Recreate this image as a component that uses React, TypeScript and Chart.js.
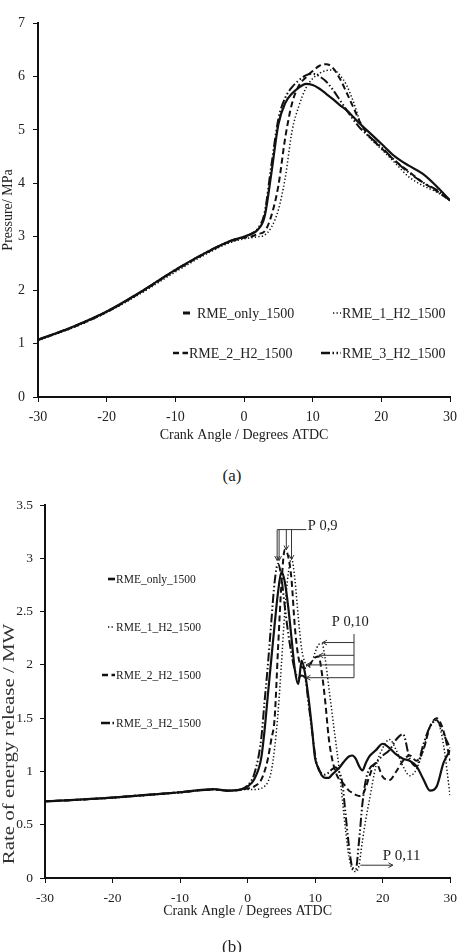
import { useEffect, useRef } from "react";
import { Chart, registerables } from "chart.js";

Chart.register(...registerables);

const SERIF = "'Liberation Serif', 'Times New Roman', Times, serif";
const INK = "#111";
const TEXT = "#222";

const seriesLabels = ["RME_only_1500", "RME_1_H2_1500", "RME_2_H2_1500", "RME_3_H2_1500"];

// ---- (a) in-cylinder pressure, MPa ----
const pressureAngles = [-30, -25, -20, -15, -10, -5, -2, 0, 1, 2, 3, 4, 5, 6, 7, 8, 9, 10, 11, 12, 13, 14, 15, 16, 17, 18, 20, 22, 24, 26, 28, 30];
const pressureRmeOnly = [1.07, 1.31, 1.6, 1.97, 2.38, 2.74, 2.92, 3.0, 3.05, 3.13, 3.38, 4.2, 5.1, 5.5, 5.68, 5.79, 5.86, 5.84, 5.77, 5.67, 5.57, 5.46, 5.36, 5.23, 5.1, 4.98, 4.74, 4.5, 4.33, 4.18, 3.95, 3.68];
const pressureRme1H2 = [1.06, 1.29, 1.58, 1.94, 2.34, 2.71, 2.89, 2.96, 2.98, 3.0, 3.03, 3.18, 3.5, 4.1, 4.98, 5.45, 5.78, 5.96, 6.06, 6.11, 6.12, 6.02, 5.82, 5.5, 5.12, 4.9, 4.64, 4.38, 4.12, 3.96, 3.84, 3.68];
const pressureRme2H2 = [1.07, 1.3, 1.59, 1.96, 2.37, 2.73, 2.91, 2.98, 3.0, 3.05, 3.1, 3.4, 3.95, 4.85, 5.5, 5.83, 5.98, 6.1, 6.2, 6.23, 6.15, 5.95, 5.68, 5.4, 5.12, 4.92, 4.66, 4.42, 4.22, 4.02, 3.86, 3.68];
const pressureRme3H2 = [1.07, 1.31, 1.6, 1.97, 2.38, 2.74, 2.92, 3.0, 3.05, 3.15, 3.45, 4.35, 5.2, 5.6, 5.8, 5.93, 6.02, 6.05, 6.0, 5.9, 5.74, 5.55, 5.36, 5.18, 5.02, 4.9, 4.68, 4.42, 4.2, 4.02, 3.88, 3.68];
const pressureTicks = [0, 1, 2, 3, 4, 5, 6, 7];

// ---- (b) rate of energy release, MW ----
const heatAngles = [-30, -25, -20, -15, -10, -5, -3, -1, 0, 1, 2, 2.5, 3, 3.5, 4, 4.5, 5, 5.5, 6, 6.5, 7, 7.5, 8, 8.5, 9, 9.5, 10, 10.5, 11, 11.5, 12, 12.5, 13, 13.5, 14, 14.5, 15, 15.5, 16, 16.5, 17, 17.5, 18, 19, 20, 21, 22, 23, 24, 25, 26, 27, 28, 29, 30];
const heatRmeOnly = [0.72, 0.735, 0.755, 0.78, 0.805, 0.835, 0.82, 0.83, 0.86, 0.93, 1.12, 1.38, 1.72, 2.05, 2.38, 2.68, 2.87, 2.78, 2.55, 2.25, 1.95, 1.82, 2.04, 1.92, 1.7, 1.42, 1.12, 1.03, 0.96, 0.94, 0.94, 0.97, 1.0, 1.03, 1.07, 1.11, 1.14, 1.15, 1.12, 1.05, 1.01, 1.08, 1.14, 1.2, 1.26, 1.22, 1.16, 1.12, 1.1, 1.05, 0.93, 0.82, 0.86, 1.08, 1.2];
const heatRme1H2 = [0.72, 0.735, 0.75, 0.775, 0.8, 0.83, 0.82, 0.83, 0.83, 0.83, 0.84, 0.86, 0.9, 1.0, 1.22, 1.55, 2.0, 2.5, 2.85, 3.0, 2.8, 2.45, 2.15, 2.02, 1.98, 2.02, 2.12, 2.19, 2.2, 2.05, 1.8, 1.55, 1.3, 1.05, 0.75, 0.45, 0.2, 0.08, 0.06, 0.12, 0.35, 0.55, 0.72, 1.05, 1.22, 1.3, 1.2, 1.05, 0.96, 1.02, 1.2, 1.42, 1.48, 1.25, 0.76];
const heatRme2H2 = [0.72, 0.735, 0.755, 0.78, 0.805, 0.83, 0.82, 0.83, 0.84, 0.86, 0.92, 1.0, 1.12, 1.3, 1.5, 2.15, 2.75, 3.08, 3.02, 2.8, 2.35, 2.08, 1.98, 1.97, 1.99, 2.03, 2.07, 2.08, 1.92, 1.65, 1.32, 1.12, 1.0, 0.93, 0.9, 0.86, 0.82, 0.8, 0.78, 0.77, 0.78, 0.85, 0.95, 1.08, 0.95, 0.92, 1.0, 1.1, 1.15, 1.1, 1.2, 1.42, 1.5, 1.38, 1.1];
const heatRme3H2 = [0.72, 0.735, 0.755, 0.78, 0.805, 0.83, 0.82, 0.83, 0.87, 0.98, 1.3, 1.65, 2.0, 2.4, 2.78, 2.95, 2.82, 2.55, 2.3, 2.1, 1.95, 1.88, 1.9, 1.88, 1.65, 1.4, 1.15, 1.02, 0.98, 0.97, 0.99, 1.02, 1.04, 1.0, 0.9, 0.6, 0.3, 0.1, 0.08, 0.35, 0.7, 0.92, 1.02, 1.08, 1.15, 1.2, 1.3, 1.35, 1.12, 1.05, 1.25, 1.42, 1.48, 1.35, 1.22];
const heatTicks = [0, 0.5, 1, 1.5, 2, 2.5, 3, 3.5];

const angleTicks = [-30, -20, -10, 0, 10, 20, 30];

// callouts on the energy-release traces, in data units (deg, MW)
const firstPeakTips = [[4.37, 2.98], [4.66, 2.98], [5.73, 3.08], [6.5, 2.99]];
const secondPeakTips = [[11.1, 2.21], [10.55, 2.09], [8.65, 2.0], [8.65, 1.88]];
const dipArrow = [[16.7, 0.12], [21.5, 0.12]];

const lineStyles = [
  { dash: [] as number[], width: 2.2 },
  { dash: [1.3, 2.2], width: 1.5 },
  { dash: [6, 3.5], width: 2 },
  { dash: [9, 2.5, 1.5, 2.5, 1.5, 2.5], width: 2 },
];

function buildDatasets(xs: number[], series: number[][]) {
  return series.map((ys, i) => ({
    label: seriesLabels[i],
    data: xs.map((x, k) => ({ x, y: ys[k] })),
    borderColor: INK,
    borderWidth: lineStyles[i].width,
    borderDash: lineStyles[i].dash,
    pointRadius: 0,
    fill: false,
    cubicInterpolationMode: "monotone" as const,
  }));
}

function xAxis(fontSize: number, tickPad: number, boxHeight: number) {
  return {
    type: "linear" as const,
    min: -30,
    max: 30,
    afterBuildTicks: (s: any) => {
      s.ticks = angleTicks.map((v) => ({ value: v }));
    },
    ticks: {
      font: { family: SERIF, size: fontSize },
      color: TEXT,
      padding: tickPad,
      maxRotation: 0,
      autoSkip: false,
      callback: (v: any) => String(v),
    },
    grid: { drawOnChartArea: false, drawTicks: true, tickLength: 5, color: INK, lineWidth: 1 },
    border: { display: true, color: INK, width: 2 },
    title: { display: true, text: "Crank Angle / Degrees ATDC", font: { family: SERIF, size: 14 }, color: TEXT, padding: 0 },
    afterFit: (s: any) => {
      s.height = boxHeight;
    },
  };
}

function yAxis(max: number, ticks: number[], fontSize: number, tickPad: number, boxWidth: number, title: string | null) {
  return {
    type: "linear" as const,
    min: 0,
    max,
    afterBuildTicks: (s: any) => {
      s.ticks = ticks.map((v) => ({ value: v }));
    },
    ticks: {
      font: { family: SERIF, size: fontSize },
      color: TEXT,
      padding: tickPad,
      autoSkip: false,
      callback: (v: any) => String(v),
    },
    grid: { drawOnChartArea: false, drawTicks: true, tickLength: 5, color: INK, lineWidth: 1 },
    border: { display: true, color: INK, width: 2 },
    title: { display: !!title, text: title || "", font: { family: SERIF, size: 14 }, color: TEXT, padding: 0 },
    afterFit: (s: any) => {
      s.width = boxWidth;
    },
  };
}

function drawSample(ctx: CanvasRenderingContext2D, i: number, x1: number, x2: number, y: number, width?: number) {
  ctx.save();
  ctx.strokeStyle = INK;
  ctx.lineWidth = width ?? lineStyles[i].width;
  ctx.setLineDash(lineStyles[i].dash);
  ctx.beginPath();
  ctx.moveTo(x1, y);
  ctx.lineTo(x2, y);
  ctx.stroke();
  ctx.restore();
}

function arrowHead(ctx: CanvasRenderingContext2D, tx: number, ty: number, dx: number, dy: number) {
  const len = 5;
  const ang = 0.5;
  const a = Math.atan2(dy, dx);
  ctx.beginPath();
  ctx.moveTo(tx - len * Math.cos(a - ang), ty - len * Math.sin(a - ang));
  ctx.lineTo(tx, ty);
  ctx.lineTo(tx - len * Math.cos(a + ang), ty - len * Math.sin(a + ang));
  ctx.stroke();
}

const pressureLegend = {
  id: "pressureLegend",
  afterDraw(chart: any) {
    const ctx: CanvasRenderingContext2D = chart.ctx;
    const rows = [
      { i: 0, x1: 183, x2: 190, tx: 197, y: 313, w: 3 },
      { i: 1, x1: 333, x2: 341, tx: 342, y: 313, w: 1.6 },
      { i: 2, x1: 173, x2: 188, tx: 189, y: 353, w: 2.4 },
      { i: 3, x1: 321, x2: 341, tx: 342, y: 353, w: 2.4 },
    ];
    ctx.save();
    ctx.font = `14px ${SERIF}`;
    ctx.fillStyle = TEXT;
    ctx.textAlign = "left";
    ctx.textBaseline = "middle";
    for (const r of rows) {
      drawSample(ctx, r.i, r.x1, r.x2, r.y, r.w);
      ctx.fillText(seriesLabels[r.i], r.tx, r.y + 1);
    }
    ctx.restore();
  },
};

const heatOverlay = {
  id: "heatOverlay",
  afterDraw(chart: any) {
    const ctx: CanvasRenderingContext2D = chart.ctx;
    const xs = chart.scales.x;
    const ys = chart.scales.y;
    const px = (v: number) => xs.getPixelForValue(v);
    const py = (v: number) => ys.getPixelForValue(v);

    ctx.save();
    // legend column
    const rows = [
      { i: 0, x1: 108, x2: 115, y: 89, w: 2.6 },
      { i: 1, x1: 108, x2: 115, y: 137, w: 1.5 },
      { i: 2, x1: 102, x2: 115, y: 185, w: 2.4 },
      { i: 3, x1: 101, x2: 115, y: 233, w: 2.4 },
    ];
    ctx.font = `11.5px ${SERIF}`;
    ctx.fillStyle = TEXT;
    ctx.textAlign = "left";
    ctx.textBaseline = "middle";
    for (const r of rows) {
      drawSample(ctx, r.i, r.x1, r.x2, r.y, r.w);
      ctx.fillText(seriesLabels[r.i], 116, r.y + 1);
    }

    // y-axis title
    ctx.save();
    ctx.translate(10, 254);
    ctx.rotate(-Math.PI / 2);
    ctx.scale(1.23, 1);
    ctx.font = `17px ${SERIF}`;
    ctx.fillStyle = "#333";
    ctx.textAlign = "center";
    ctx.textBaseline = "middle";
    ctx.fillText("Rate of energy release / MW", 0, 0);
    ctx.restore();

    ctx.strokeStyle = "#333";
    ctx.lineWidth = 1;

    // first peak callout: bar above the peaks with arrows down
    const barY = py(3.27);
    ctx.beginPath();
    ctx.moveTo(px(firstPeakTips[0][0]), barY);
    ctx.lineTo(px(8.7), barY);
    ctx.stroke();
    for (const [tx, ty] of firstPeakTips) {
      ctx.beginPath();
      ctx.moveTo(px(tx), barY);
      ctx.lineTo(px(tx), py(ty));
      ctx.stroke();
      arrowHead(ctx, px(tx), py(ty), 0, 1);
    }
    ctx.font = `14.5px ${SERIF}`;
    ctx.textBaseline = "middle";
    ctx.textAlign = "left";
    ctx.fillText("P 0,9", px(8.9), py(3.3));

    // second peak callout: vertical bar with arrows pointing left
    const barX = px(15.75);
    ctx.beginPath();
    ctx.moveTo(barX, py(2.29));
    ctx.lineTo(barX, py(secondPeakTips[3][1]));
    ctx.stroke();
    for (const [tx, ty] of secondPeakTips) {
      ctx.beginPath();
      ctx.moveTo(barX, py(ty));
      ctx.lineTo(px(tx), py(ty));
      ctx.stroke();
      arrowHead(ctx, px(tx), py(ty), -1, 0);
    }
    ctx.textAlign = "center";
    ctx.fillText("P 0,10", px(15.2), py(2.4));

    // dip callout
    const [[fx, fy], [tx2, ty2]] = dipArrow;
    ctx.beginPath();
    ctx.moveTo(px(fx), py(fy));
    ctx.lineTo(px(tx2), py(ty2));
    ctx.stroke();
    arrowHead(ctx, px(tx2), py(ty2), 1, 0);
    ctx.font = `15px ${SERIF}`;
    ctx.textAlign = "left";
    ctx.fillText("P 0,11", px(20.0), py(0.21));

    ctx.restore();
  },
};

export default function App() {
  const pressureRef = useRef<HTMLCanvasElement>(null);
  const heatRef = useRef<HTMLCanvasElement>(null);

  useEffect(() => {
    const pressureChart = new Chart(pressureRef.current!, {
      type: "line",
      data: {
        datasets: buildDatasets(pressureAngles, [pressureRmeOnly, pressureRme1H2, pressureRme2H2, pressureRme3H2]) as any,
      },
      options: {
        responsive: false,
        animation: false,
        layout: { padding: { left: 0, right: 9, top: 23, bottom: 0 } },
        plugins: { legend: { display: false }, tooltip: { enabled: false } },
        scales: {
          x: xAxis(14, 7, 47) as any,
          y: yAxis(7, pressureTicks, 14, 8, 38, "Pressure/ MPa") as any,
        },
      },
      plugins: [pressureLegend],
    });

    const heatChart = new Chart(heatRef.current!, {
      type: "line",
      data: {
        datasets: buildDatasets(heatAngles, [heatRmeOnly, heatRme1H2, heatRme2H2, heatRme3H2]) as any,
      },
      options: {
        responsive: false,
        animation: false,
        layout: { padding: { left: 0, right: 7, top: 13, bottom: 32 } },
        plugins: { legend: { display: false }, tooltip: { enabled: false } },
        scales: {
          x: xAxis(13.5, 7, 42) as any,
          y: yAxis(3.5, heatTicks, 13.5, 7, 45, null) as any,
        },
      },
      plugins: [heatOverlay],
    });

    return () => {
      pressureChart.destroy();
      heatChart.destroy();
    };
  }, []);

  const caption: React.CSSProperties = {
    position: "absolute",
    left: 0,
    width: 464,
    textAlign: "center",
    font: `17px ${SERIF}`,
    color: TEXT,
  };

  return (
    <div style={{ position: "fixed", left: 0, top: 0, width: 464, height: 952, overflow: "hidden", background: "#fff" }}>
      <canvas ref={pressureRef} width={464} height={444} style={{ position: "absolute", left: 0, top: 0 }} />
      <div style={{ ...caption, top: 466 }}>(a)</div>
      <canvas ref={heatRef} width={464} height={462} style={{ position: "absolute", left: 0, top: 490 }} />
      <div style={{ ...caption, top: 937 }}>(b)</div>
    </div>
  );
}
